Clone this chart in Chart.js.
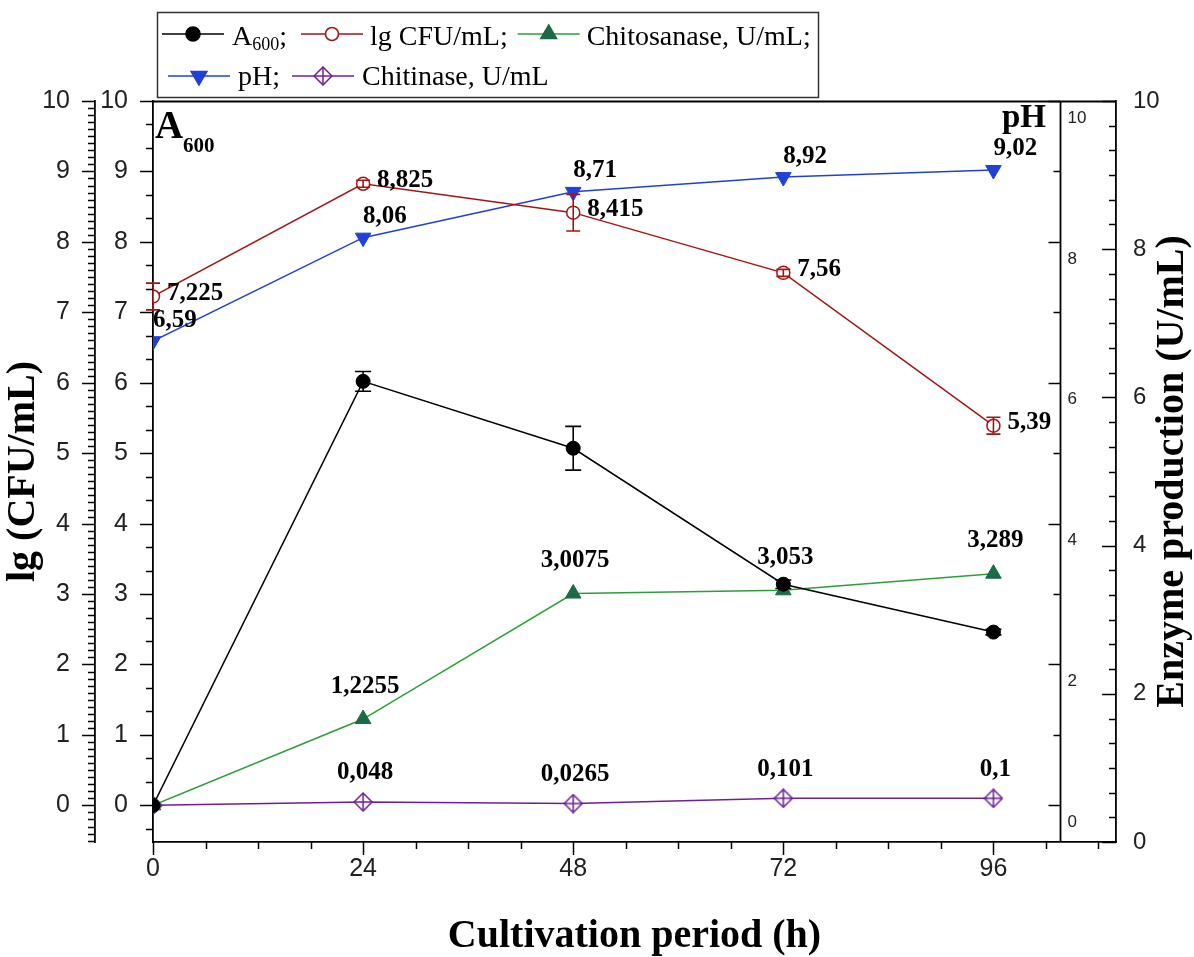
<!DOCTYPE html>
<html>
<head>
<meta charset="utf-8">
<script src="https://cdn.jsdelivr.net/npm/chart.js@4.4.0/dist/chart.umd.min.js"></script>
<style>
html, body { margin: 0; padding: 0; background: #fff; }
#wrap { width: 1194px; height: 957px; }
</style>
</head>
<body>
<div id="wrap"><canvas id="chart" width="1194" height="957"></canvas></div>
<script>
// data
const hours = [0, 24, 48, 72, 96];
const a600 = [0, 6.02, 5.07, 3.14, 2.46];
const a600Err = [0, 0.14, 0.31, 0.06, 0.04];
const lgCfu = [7.225, 8.825, 8.415, 7.56, 5.39];
const lgCfuErr = [0.19, 0.05, 0.26, 0.05, 0.12];
const chitosanase = [0, 1.2255, 3.0075, 3.053, 3.289];
const ph = [6.59, 8.06, 8.71, 8.92, 9.02];
const chitinase = [0, 0.048, 0.0265, 0.101, 0.1];

// tick labels
const xTicks = [0, 24, 48, 72, 96];
const yTicks = [0, 1, 2, 3, 4, 5, 6, 7, 8, 9, 10];
const enzTicks = [0, 2, 4, 6, 8, 10];
const phTicks = [0, 2, 4, 6, 8, 10];

const serif = "'Liberation Serif', 'Times New Roman', serif";
const sans = "'Liberation Sans', Arial, sans-serif";
const tickColor = '#222';

const colCfu = '#a31515';
const colChitosanLine = '#2f9e3a';
const colChitosanMark = '#1b6b48';
const colPh = '#2140d8';
const colChitin = '#6f1f94';

const phAxisAt = 103.6; // x value where the pH axis stands

function pts(vals) {
  return hours.map((h, i) => ({ x: h, y: vals[i] }));
}
function commaNum(v) {
  return String(v).replace('.', ',');
}

// crossed diamond marker
function diamondCross(color) {
  const c = document.createElement('canvas');
  c.width = 20; c.height = 20;
  const g = c.getContext('2d');
  g.strokeStyle = color;
  g.lineWidth = 1.5;
  g.fillStyle = '#fff';
  g.beginPath();
  g.moveTo(10, 1); g.lineTo(19, 10); g.lineTo(10, 19); g.lineTo(1, 10);
  g.closePath();
  g.fill(); g.stroke();
  g.beginPath();
  g.moveTo(10, 1); g.lineTo(10, 19);
  g.moveTo(1, 10); g.lineTo(19, 10);
  g.stroke();
  return c;
}
const chitinMarker = diamondCross(colChitin);

function tickList(scale, values, len, axisPx, horizontal, ctx) {
  ctx.beginPath();
  values.forEach(v => {
    const p = Math.round(scale.getPixelForValue(v)) + 0.5;
    if (horizontal) {
      ctx.moveTo(p, axisPx); ctx.lineTo(p, axisPx + len);
    } else {
      ctx.moveTo(axisPx, p); ctx.lineTo(axisPx - len, p);
    }
  });
  ctx.stroke();
}

function steps(fromK, toK, div, skipEvery) {
  const out = [];
  for (let k = fromK; k <= toK; k++) {
    if (k % skipEvery !== 0) out.push(k / div);
  }
  return out;
}

// error bars + value labels
const markupPlugin = {
  id: 'markup',
  afterDatasetsDraw(chart) {
    const ctx = chart.ctx;
    const y = chart.scales.y;
    ctx.save();
    // error bars
    [[0, a600, a600Err, '#000', 8], [1, lgCfu, lgCfuErr, colCfu, 7]].forEach(([di, vals, errs, col, cap]) => {
      const meta = chart.getDatasetMeta(di);
      ctx.strokeStyle = col;
      ctx.lineWidth = 1.6;
      meta.data.forEach((pt, i) => {
        if (!errs[i]) return;
        const top = y.getPixelForValue(vals[i] + errs[i]);
        const bot = y.getPixelForValue(vals[i] - errs[i]);
        ctx.beginPath();
        ctx.moveTo(pt.x, top); ctx.lineTo(pt.x, bot);
        ctx.moveTo(pt.x - cap, top); ctx.lineTo(pt.x + cap, top);
        ctx.moveTo(pt.x - cap, bot); ctx.lineTo(pt.x + cap, bot);
        ctx.stroke();
      });
    });

    // value labels
    ctx.fillStyle = '#000';
    ctx.font = 'bold 25px ' + serif;
    ctx.textBaseline = 'middle';
    const labelSets = [
      { di: 1, vals: lgCfu, align: 'left', dx: 14, dy: -3, skipFirst: false },
      { di: 3, vals: ph, align: 'left', dx: 0, dy: -21, skipFirst: false },
      { di: 2, vals: chitosanase, align: 'center', dx: 2, dy: -33, skipFirst: true },
      { di: 4, vals: chitinase, align: 'center', dx: 2, dy: -29, skipFirst: true }
    ];
    labelSets.forEach(set => {
      const meta = chart.getDatasetMeta(set.di);
      ctx.textAlign = set.align;
      meta.data.forEach((pt, i) => {
        if (set.skipFirst && i === 0) return;
        ctx.fillText(commaNum(set.vals[i]), pt.x + set.dx, pt.y + set.dy);
      });
    });
    ctx.restore();
  },
  afterDraw(chart) {
    const ctx = chart.ctx;
    const { x, y, yOuter, yEnz } = chart.scales;
    const area = chart.chartArea;
    ctx.save();
    ctx.strokeStyle = '#000';

    // frame top and the pH axis line
    const phX = Math.round(x.getPixelForValue(phAxisAt)) + 0.5;
    ctx.lineWidth = 1.8;
    ctx.beginPath();
    ctx.moveTo(area.left, area.top + 0.5); ctx.lineTo(area.right, area.top + 0.5);
    ctx.moveTo(phX, area.top); ctx.lineTo(phX, area.bottom);
    ctx.stroke();

    ctx.lineWidth = 1.5;
    // x axis ticks (down)
    tickList(x, xTicks, 13, area.bottom, true, ctx);
    tickList(x, steps(0, 18, 1 / 6, 4), 7, area.bottom, true, ctx);
    // inner left axis
    tickList(y, yTicks, 13, area.left, false, ctx);
    tickList(y, steps(-1, 30, 3, 3), 7, area.left, false, ctx);
    // outer left axis
    const ox = yOuter.right;
    tickList(yOuter, yTicks, 13, ox, false, ctx);
    tickList(yOuter, steps(-5, 100, 10, 10), 7, ox, false, ctx);
    // pH axis, ticks inward
    tickList(y, phTicks, 12, phX, false, ctx);
    tickList(y, [1, 3, 5, 7, 9], 7, phX, false, ctx);
    // enzyme axis, ticks inward
    const ex = yEnz.left;
    tickList(yEnz, enzTicks, 14, ex, false, ctx);
    tickList(yEnz, steps(1, 29, 3, 6), 7, ex, false, ctx);

    // pH tick labels
    ctx.fillStyle = tickColor;
    ctx.font = '17px ' + sans;
    ctx.textAlign = 'left';
    ctx.textBaseline = 'middle';
    phTicks.forEach(v => {
      ctx.fillText(String(v), phX + 7, y.getPixelForValue(v) + 17);
    });

    // enzyme axis title, reading upward
    ctx.fillStyle = '#000';
    ctx.font = 'bold 40px ' + serif;
    ctx.textAlign = 'center';
    ctx.textBaseline = 'middle';
    ctx.save();
    ctx.translate(1173, (area.top + area.bottom) / 2);
    ctx.rotate(-Math.PI / 2);
    ctx.fillText('Enzyme production (U/mL)', 0, 0);
    ctx.restore();

    // in-plot captions
    ctx.textAlign = 'left';
    ctx.textBaseline = 'alphabetic';
    ctx.font = 'bold 39px ' + serif;
    ctx.fillText('A', 155, 138);
    ctx.font = 'bold 21px ' + serif;
    ctx.fillText('600', 183, 152);
    ctx.font = 'bold 33px ' + serif;
    ctx.textAlign = 'right';
    ctx.fillText('pH', 1046, 127);

    // legend
    drawLegend(chart, ctx);
    ctx.restore();
  }
};

function legendSample(ctx, chart, di, x0, yMid) {
  const ds = chart.data.datasets[di];
  ctx.save();
  ctx.strokeStyle = ds.borderColor;
  ctx.lineWidth = 1.6;
  ctx.beginPath();
  ctx.moveTo(x0, yMid); ctx.lineTo(x0 + 62, yMid);
  ctx.stroke();
  ctx.fillStyle = ds.pointBackgroundColor;
  ctx.strokeStyle = ds.pointBorderColor;
  Chart.helpers.drawPoint(ctx, {
    pointStyle: ds.pointStyle,
    rotation: ds.pointRotation || 0,
    radius: ds.pointRadius,
    borderWidth: ds.pointBorderWidth || 1.5
  }, x0 + 31, yMid);
  ctx.restore();
}

function drawLegend(chart, ctx) {
  ctx.save();
  ctx.strokeStyle = '#333';
  ctx.lineWidth = 1.5;
  ctx.strokeRect(157.5, 12.5, 661, 85);
  ctx.textAlign = 'left';
  ctx.textBaseline = 'alphabetic';
  ctx.fillStyle = '#000';
  const big = '28px ' + serif;
  const small = '18px ' + serif;

  // row 1
  let cx = 162;
  const r1 = 45, r1Line = 34;
  legendSample(ctx, chart, 0, cx, r1Line);
  cx += 70;
  ctx.font = big; ctx.fillText('A', cx, r1); cx += ctx.measureText('A').width;
  ctx.font = small; ctx.fillText('600', cx, r1 + 5); cx += ctx.measureText('600').width;
  ctx.font = big; ctx.fillText(';', cx, r1); cx += ctx.measureText(';').width + 14;
  legendSample(ctx, chart, 1, cx, r1Line);
  cx += 69;
  ctx.fillText('lg CFU/mL;', cx, r1); cx += ctx.measureText('lg CFU/mL;').width + 10;
  legendSample(ctx, chart, 2, cx, r1Line);
  cx += 69;
  ctx.fillText('Chitosanase, U/mL;', cx, r1);

  // row 2
  cx = 168;
  const r2 = 85, r2Line = 76;
  legendSample(ctx, chart, 3, cx, r2Line);
  cx += 70;
  ctx.fillText('pH;', cx, r2); cx += ctx.measureText('pH;').width + 12;
  legendSample(ctx, chart, 4, cx, r2Line);
  cx += 70;
  ctx.fillText('Chitinase, U/mL', cx, r2);
  ctx.restore();
}

const axisTickFont = { family: sans, size: 25 };

new Chart(document.getElementById('chart'), {
  type: 'line',
  data: {
    datasets: [
      {
        label: 'A600', data: pts(a600),
        borderColor: '#000', borderWidth: 1.5,
        pointStyle: 'circle', pointRadius: 7,
        pointBackgroundColor: '#000', pointBorderColor: '#000', pointBorderWidth: 1
      },
      {
        label: 'lg CFU/mL', data: pts(lgCfu),
        borderColor: colCfu, borderWidth: 1.5,
        pointStyle: 'circle', pointRadius: 6.5,
        pointBackgroundColor: '#fff', pointBorderColor: colCfu, pointBorderWidth: 1.5
      },
      {
        label: 'Chitosanase, U/mL', data: pts(chitosanase),
        borderColor: colChitosanLine, borderWidth: 1.5,
        pointStyle: 'triangle', pointRadius: 9,
        pointBackgroundColor: colChitosanMark, pointBorderColor: colChitosanMark, pointBorderWidth: 1
      },
      {
        label: 'pH', data: pts(ph),
        borderColor: colPh, borderWidth: 1.5,
        pointStyle: 'triangle', pointRotation: 180, pointRadius: 9,
        pointBackgroundColor: colPh, pointBorderColor: colPh, pointBorderWidth: 1
      },
      {
        label: 'Chitinase, U/mL', data: pts(chitinase),
        borderColor: colChitin, borderWidth: 1.5,
        pointStyle: chitinMarker, pointRadius: 10,
        pointBackgroundColor: '#fff', pointBorderColor: colChitin
      }
    ]
  },
  options: {
    responsive: false,
    animation: false,
    layout: { padding: { left: 0, top: 101, right: 0, bottom: 0 } },
    plugins: { legend: { display: false }, tooltip: { enabled: false } },
    scales: {
      x: {
        type: 'linear', position: 'bottom', min: 0, max: 110,
        afterBuildTicks: s => { s.ticks = xTicks.map(v => ({ value: v })); },
        afterFit: s => { s.height = 115; },
        ticks: { font: axisTickFont, color: tickColor, padding: 12, maxRotation: 0, autoSkip: false },
        grid: { display: false, drawTicks: false },
        border: { display: true, color: '#000', width: 1.8 },
        title: {
          display: true, text: 'Cultivation period (h)', color: '#000',
          font: { family: serif, size: 40, weight: 'bold', lineHeight: 1 },
          padding: { top: 0, bottom: 0 }
        }
      },
      y: {
        type: 'linear', position: 'left', weight: 0, min: -0.52, max: 10,
        afterBuildTicks: s => { s.ticks = yTicks.map(v => ({ value: v })); },
        afterFit: s => { s.width = 58; },
        ticks: { font: axisTickFont, color: tickColor, padding: 25 },
        grid: { display: false, drawTicks: false },
        border: { display: true, color: '#000', width: 1.8 }
      },
      yOuter: {
        type: 'linear', position: 'left', weight: 1, min: -0.52, max: 10,
        afterBuildTicks: s => { s.ticks = yTicks.map(v => ({ value: v })); },
        afterFit: s => { s.width = 95; },
        ticks: { font: axisTickFont, color: tickColor, padding: 25 },
        grid: { display: false, drawTicks: false },
        border: { display: true, color: '#000', width: 1.8 },
        title: {
          display: true, text: 'lg (CFU/mL)', color: '#000',
          font: { family: serif, size: 40, weight: 'bold', lineHeight: 1 },
          padding: { top: 4, bottom: 0 }
        }
      },
      yEnz: {
        type: 'linear', position: 'right', min: 0, max: 10,
        afterBuildTicks: s => { s.ticks = enzTicks.map(v => ({ value: v })); },
        afterFit: s => { s.width = 78; },
        ticks: { font: { family: sans, size: 24 }, color: tickColor, padding: 17 },
        grid: { display: false, drawTicks: false },
        border: { display: true, color: '#000', width: 1.8 }
      }
    }
  },
  plugins: [markupPlugin]
});
</script>
</body>
</html>
